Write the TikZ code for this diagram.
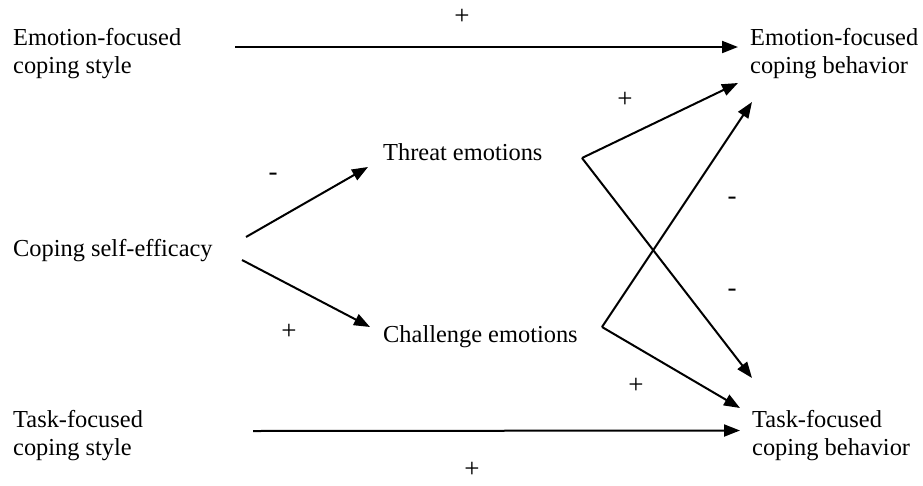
\documentclass[tikz,border=0pt]{standalone}
\usepackage{fontspec}
\setmainfont{Liberation Serif}
\usetikzlibrary{calc,arrows.meta}
\tikzset{
  lbl/.style={inner sep=0pt, font=\fontsize{24.4}{28}\selectfont},
  twoline/.style={lbl, align=left, anchor=north west},
  oneline/.style={lbl, anchor=base west},
  sign/.style={inner sep=0pt, font=\fontsize{27}{30}\selectfont},
  arr/.style={line width=2pt, -{Triangle[length=16pt,width=12pt]}},
}
\begin{document}
\begin{tikzpicture}[x=1pt,y=-1pt]
\useasboundingbox (0,0) rectangle (923,485);
% nodes
\node[twoline] (efs) at (13,28.3) {Emotion-focused\\coping style};
\node[twoline] (efb) at (750,28.3) {Emotion-focused\\coping behavior};
\node[oneline] (cse) at (13,256) {Coping self-efficacy};
\node[oneline] (thr) at (383,160) {Threat emotions};
\node[oneline] (chl) at (383,342) {Challenge emotions};
\node[twoline] (tfs) at (13,410.3) {Task-focused\\coping style};
\node[twoline] (tfb) at (752,410.3) {Task-focused\\coping behavior};
% vertices
\coordinate (tv) at ($(thr.base west)+(199,-2)$);
\coordinate (cv) at ($(chl.base west)+(219,-15)$);
% connectors
\draw[arr] ($(efs.north west)+(222,18.7)$) -- ($(efb.north west)+(-12,18.7)$);
\draw[arr] ($(tfs.north west)+(240,20.7)$) -- ($(tfb.north west)+(-12,20.2)$);
\draw[arr] ($(cse.base west)+(233,-19)$) -- ($(thr.base west)+(-15,7)$);
\draw[arr] ($(cse.base west)+(229,4)$) -- ($(chl.base west)+(-13,-15)$);
\draw[arr] (tv) -- ($(efb.north west)+(-12,54.7)$);
\draw[arr] (tv) -- ($(tfb.north west)+(0,-32.3)$);
\draw[arr] (cv) -- ($(efb.north west)+(2,73.7)$);
\draw[arr] (cv) -- ($(tfb.north west)+(-12,-2.3)$);
% signs
\node[sign] (p1) at (462,17) {+};
\node[sign] (p2) at (625,100) {+};
\node[sign] (m1) at (273,176.5) {-};
\node[sign] (m2) at (732,200.5) {-};
\node[sign] (m3) at (732,292.5) {-};
\node[sign] (p3) at (289,332) {+};
\node[sign] (p4) at (636,386) {+};
\node[sign] (p5) at (472,470) {+};
\end{tikzpicture}
\end{document}
